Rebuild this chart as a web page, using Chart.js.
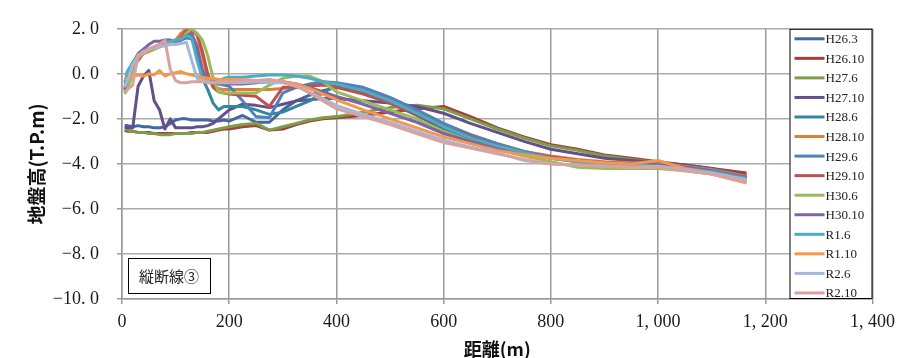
<!DOCTYPE html>
<html lang="ja">
<head>
<meta charset="utf-8">
<script src="https://cdn.jsdelivr.net/npm/chart.js@4.4.1/dist/chart.umd.min.js"></script>
<style>
  html, body { margin: 0; padding: 0; background: #fff; }
  #wrap { width: 902px; height: 358px; }
</style>
</head>
<body>
<div id="wrap"><canvas id="profileChart" width="902" height="358"></canvas></div>
<script>
// 距離 (m)
const distance = [5, 10, 20, 30, 40, 50, 60, 70, 80, 90, 100, 110, 120, 130, 140, 150, 160, 170, 180, 190, 200,
    225, 250, 275, 300, 325, 350, 375, 400, 450, 500, 550, 600, 650, 700, 750, 800, 850, 900, 950, 1000, 1050, 1100, 1165];

// 地盤高 (T.P.m)
const h26_3 = [-2.3, -2.3, -2.35, -2.3, -2.35, -2.35, -2.4, -2.4, -2.35, -2.2, -2.05, -2.0, -2.0, -2.05, -2.05, -2.05, -2.05, -2.1, -2.1, -2.05, -2.1,
    -1.85, -2.15, -2.15, -1.6, -1.2, -0.95, -0.75, -0.6, -0.8, -1.3, -1.85, -2.45, -2.9, -3.25, -3.55, -3.75, -3.9, -4.0, -4.05, -4.1, -4.2, -4.35, -4.6];
const h26_10 = [-2.5, -2.55, -2.55, -2.6, -2.6, -2.6, -2.65, -2.65, -2.65, -2.65, -2.65, -2.65, -2.65, -2.6, -2.6, -2.6, -2.6, -2.55, -2.5, -2.45, -2.45,
    -2.35, -2.3, -2.5, -2.45, -2.25, -2.1, -2.0, -1.95, -1.85, -1.7, -1.55, -1.45, -1.9, -2.4, -2.8, -3.15, -3.35, -3.6, -3.75, -3.9, -4.05, -4.2, -4.4];
const h27_6 = [-2.45, -2.5, -2.55, -2.6, -2.6, -2.65, -2.65, -2.7, -2.7, -2.7, -2.65, -2.65, -2.65, -2.65, -2.6, -2.6, -2.55, -2.5, -2.45, -2.4, -2.35,
    -2.25, -2.2, -2.5, -2.35, -2.2, -2.05, -1.95, -1.9, -1.7, -1.5, -1.4, -1.55, -2.0, -2.45, -2.85, -3.2, -3.4, -3.65, -3.8, -3.95, -4.15, -4.3, -4.55];
const h27_10 = [-2.35, -2.4, -2.4, -0.55, -0.1, 0.15, -1.2, -1.6, -2.45, -2.0, -2.4, -2.4, -2.4, -2.4, -2.35, -2.35, -2.3, -2.2, -2.0, -1.8, -1.6,
    -1.35, -1.4, -1.5, -1.35, -1.2, -1.15, -1.1, -1.1, -1.2, -1.3, -1.45, -1.75, -2.2, -2.6, -3.0, -3.35, -3.55, -3.75, -3.85, -3.95, -4.05, -4.2, -4.5];
const h28_6 = [-0.6, -0.2, 0.5, 0.85, 1.0, 1.1, 1.2, 1.3, 1.35, 1.4, 1.45, 1.5, 1.6, 1.55, 1.0, -0.2, -0.7, -1.3, -1.6, -1.45, -1.45,
    -1.45, -1.6, -1.8, -1.7, -1.45, -1.2, -0.85, -0.5, -0.7, -1.15, -1.7, -2.3, -2.75, -3.15, -3.5, -3.7, -3.85, -3.95, -4.05, -4.1, -4.2, -4.35, -4.6];
const h28_10 = [-0.6, -0.4, 0.3, 0.7, 0.9, 1.0, 1.15, 1.25, 1.3, 1.35, 1.5, 1.8, 2.0, 2.0, 1.7, 0.8, -0.2, -0.5, -0.65, -0.7, -0.7,
    -0.7, -0.7, -0.7, -0.65, -0.6, -0.55, -0.45, -0.45, -0.65, -1.1, -1.65, -2.25, -2.7, -3.1, -3.45, -3.65, -3.8, -3.9, -3.95, -4.0, -4.1, -4.25, -4.55];
const h29_6 = [-0.7, -0.4, 0.4, 0.75, 0.95, 1.05, 1.15, 1.25, 1.3, 1.4, 1.45, 1.55, 1.85, 1.75, 1.2, 0.2, -0.3, -0.4, -0.45, -0.5, -0.55,
    -1.2, -1.9, -1.95, -0.85, -0.6, -0.45, -0.35, -0.4, -0.6, -1.05, -1.6, -2.2, -2.7, -3.1, -3.45, -3.7, -3.85, -3.95, -4.0, -4.05, -4.15, -4.3, -4.6];
const h29_10 = [-0.8, -0.5, 0.3, 0.6, 0.9, 1.0, 1.1, 1.2, 1.3, 1.35, 1.4, 1.6, 1.9, 1.9, 1.8, 1.0, 0.0, -0.6, -0.8, -0.85, -0.9,
    -0.95, -1.0, -1.45, -0.6, -0.6, -0.55, -0.5, -0.6, -0.9, -1.3, -1.8, -2.35, -2.8, -3.2, -3.5, -3.7, -3.85, -3.95, -4.0, -4.1, -4.2, -4.35, -4.6];
const h30_6 = [-0.9, -0.7, 0.0, 0.7, 0.9, 1.0, 1.1, 1.2, 1.3, 1.35, 1.4, 1.5, 1.8, 2.0, 1.8, 1.5, 0.8, -0.2, -0.8, -0.85, -0.85,
    -0.85, -0.85, -0.5, -0.2, -0.1, -0.1, -0.35, -0.8, -1.2, -1.6, -2.0, -2.55, -3.0, -3.35, -3.65, -3.9, -4.15, -4.2, -4.2, -4.2, -4.3, -4.45, -4.75];
const h30_10 = [-0.7, -0.2, 0.4, 0.9, 1.1, 1.3, 1.45, 1.45, 1.5, 1.5, 1.45, 1.5, 1.7, 1.8, 1.2, 0.0, -0.3, -0.4, -0.4, -0.4, -0.45,
    -0.45, -0.4, -0.35, -0.35, -0.45, -0.6, -0.8, -1.0, -1.35, -1.75, -2.15, -2.65, -3.0, -3.3, -3.55, -3.7, -3.85, -3.95, -4.0, -4.05, -4.15, -4.3, -4.65];
const r1_6 = [-0.4, 0.1, 0.5, 0.8, 1.0, 1.1, 1.2, 1.3, 1.35, 1.45, 1.5, 1.55, 1.7, 1.6, 0.6, -0.2, -0.3, -0.35, -0.35, -0.2, -0.15,
    -0.15, -0.1, -0.05, -0.05, -0.1, -0.2, -0.35, -0.45, -0.75, -1.2, -1.75, -2.35, -2.85, -3.2, -3.5, -3.75, -3.9, -4.0, -4.05, -4.1, -4.2, -4.35, -4.65];
const r1_10 = [-0.2, -0.25, -0.1, -0.05, -0.1, 0.0, -0.05, 0.15, -0.1, 0.0, 0.05, 0.1, 0.0, -0.05, -0.1, -0.15, -0.2, -0.2, -0.25, -0.25, -0.25,
    -0.25, -0.3, -0.3, -0.35, -0.45, -0.65, -0.9, -1.15, -1.6, -2.0, -2.4, -2.8, -3.1, -3.4, -3.6, -3.75, -3.85, -3.95, -4.0, -3.85, -4.2, -4.45, -4.85];
const r2_6 = [-0.6, -0.3, 0.4, 0.8, 1.0, 1.1, 1.15, 1.2, 1.25, 1.3, 1.3, 1.35, 1.4, 0.6, -0.2, -0.3, -0.35, -0.4, -0.4, -0.4, -0.4,
    -0.4, -0.35, -0.4, -0.4, -0.55, -0.8, -1.1, -1.4, -1.8, -2.15, -2.55, -2.95, -3.25, -3.5, -3.85, -4.0, -4.05, -4.1, -4.15, -4.1, -4.25, -4.4, -4.7];
const r2_10 = [-0.8, -0.7, -0.5, 0.85, 0.9, 1.1, 1.2, 1.3, 1.5, 0.2, -0.3, -0.4, -0.4, -0.35, -0.35, -0.35, -0.4, -0.4, -0.35, -0.35, -0.35,
    -0.3, -0.3, -0.25, -0.35, -0.55, -0.85, -1.2, -1.55, -1.9, -2.25, -2.65, -3.05, -3.3, -3.55, -3.8, -4.0, -4.05, -4.1, -4.15, -4.15, -4.3, -4.45, -4.8];

const seriesLabels = ['H26.3', 'H26.10', 'H27.6', 'H27.10', 'H28.6', 'H28.10', 'H29.6', 'H29.10', 'H30.6', 'H30.10', 'R1.6', 'R1.10', 'R2.6', 'R2.10'];
const seriesValues = [h26_3, h26_10, h27_6, h27_10, h28_6, h28_10, h29_6, h29_10, h30_6, h30_10, r1_6, r1_10, r2_6, r2_10];
const seriesColors = ['#3e6a9f', '#a33f3c', '#7f9c46', '#634f8c', '#31879e', '#d7803a', '#4f81bd', '#c0504d',
    '#9bbb59', '#8064a2', '#4bacc6', '#f79646', '#a3b9dc', '#dca09f'];

const serifFont = "'Liberation Serif', 'DejaVu Serif', serif";
const jpFont = "'Noto Sans CJK JP', sans-serif";

// Legend box and section label drawn over the plot area, like the original
const overlayPlugin = {
    id: 'overlay',
    afterDraw(chart) {
        const ctx = chart.ctx;
        const area = chart.chartArea;
        ctx.save();

        // legend
        const lx = area.right - 83, ly = area.top, lw = 82, lh = area.bottom - area.top - 1;
        ctx.fillStyle = '#ffffff';
        ctx.fillRect(lx, ly, lw, lh);
        ctx.strokeStyle = '#000000';
        ctx.lineWidth = 1;
        ctx.strokeRect(lx + 0.5, ly + 0.5, lw, lh);
        ctx.font = '13px ' + serifFont;
        ctx.textBaseline = 'middle';
        chart.data.datasets.forEach((ds, i) => {
            const y = ly + 10 + i * 19.55;
            ctx.strokeStyle = ds.borderColor;
            ctx.lineWidth = 3;
            ctx.beginPath();
            ctx.moveTo(lx + 5, y);
            ctx.lineTo(lx + 35, y);
            ctx.stroke();
            ctx.fillStyle = '#222222';
            ctx.fillText(ds.label, lx + 36, y + 1);
        });

        // section label
        const bx = area.left + 6, by = area.bottom - 41;
        ctx.fillStyle = '#ffffff';
        ctx.fillRect(bx, by, 82, 35);
        ctx.strokeStyle = '#000000';
        ctx.lineWidth = 1;
        ctx.strokeRect(bx + 0.5, by + 0.5, 82, 35);
        ctx.fillStyle = '#222222';
        ctx.font = '15px ' + jpFont;
        ctx.textAlign = 'center';
        ctx.fillText('縦断線③', bx + 41, by + 18);
        ctx.restore();
    }
};

document.addEventListener('DOMContentLoaded', function() {
    const ctx = document.getElementById('profileChart').getContext('2d');
    new Chart(ctx, {
        type: 'line',
        data: {
            datasets: seriesLabels.map((label, i) => ({
                label: label,
                data: distance.map((d, j) => ({ x: d, y: seriesValues[i][j] })),
                borderColor: seriesColors[i],
                backgroundColor: seriesColors[i],
                borderWidth: 3,
                borderJoinStyle: 'round',
                pointRadius: 0,
                tension: 0,
                fill: false,
                order: seriesLabels.length - i
            }))
        },
        options: {
            responsive: false,
            animation: false,
            layout: { padding: { left: 0, right: 24, top: 27, bottom: 0 } },
            plugins: {
                legend: { display: false },
                tooltip: { enabled: false }
            },
            scales: {
                x: {
                    type: 'linear',
                    min: 0,
                    max: 1400,
                    ticks: {
                        stepSize: 200,
                        autoSkip: false,
                        maxRotation: 0,
                        padding: 7,
                        color: '#1a1a1a',
                        font: { family: serifFont, size: 18 },
                        callback: (v) => v.toLocaleString('en-US').replace(',', ', ')
                    },
                    grid: { color: '#999999', lineWidth: 1.5, tickLength: 5, tickColor: '#999999' },
                    border: { color: '#999999', width: 1.5 },
                    title: {
                        display: true,
                        text: '距離(m)',
                        color: '#111111',
                        padding: { top: 0, bottom: 0 },
                        font: { family: jpFont, size: 18, weight: 'bold', lineHeight: 1 }
                    },
                    afterFit: (scale) => { scale.height = 59; }
                },
                y: {
                    min: -10,
                    max: 2,
                    ticks: {
                        stepSize: 2,
                        padding: 18,
                        color: '#1a1a1a',
                        font: { family: serifFont, size: 18 },
                        callback: (v) => (v < 0 ? '\u2212' : '') + Math.abs(v).toFixed(1).replace('.', '. ')
                    },
                    grid: { color: '#ababab', lineWidth: 1.5, tickLength: 5, tickColor: '#999999' },
                    border: { color: '#999999', width: 1.5 },
                    title: {
                        display: true,
                        text: '地盤高(T.P.m)',
                        color: '#111111',
                        padding: { top: 25, bottom: 0 },
                        font: { family: jpFont, size: 19, weight: 'bold' }
                    },
                    afterFit: (scale) => { scale.width = 122; }
                }
            }
        },
        plugins: [overlayPlugin]
    });
});
</script>
</body>
</html>
